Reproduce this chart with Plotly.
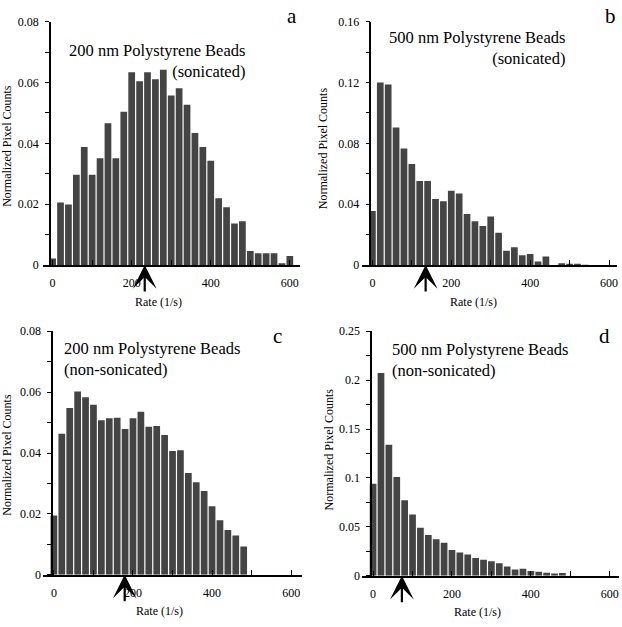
import numpy as np
import plotly.graph_objects as go

W, H = 622, 627
BIN = 20  # bin width (1/s)

# Histogram values (normalized pixel counts), bins centered at 0, 20, 40, ...
vals_a = [0.0022, 0.0206, 0.0199, 0.0297, 0.0388, 0.0297, 0.0351, 0.0466, 0.0351, 0.0504,
          0.0634, 0.0604, 0.0634, 0.0611, 0.0642, 0.0557, 0.0581, 0.0527, 0.0434, 0.0388,
          0.0343, 0.0220, 0.0190, 0.0137, 0.0144, 0.0046, 0.0039, 0.0039, 0.0039, 0.0006, 0.0030]
vals_b = [0.0355, 0.1200, 0.1187, 0.0905, 0.0766, 0.0665, 0.0552, 0.0552, 0.0434, 0.0419,
          0.0488, 0.0471, 0.0336, 0.0289, 0.0257, 0.0320, 0.0212, 0.0094, 0.0118, 0.0064,
          0.0073, 0.0024, 0.0056, 0.0, 0.0012, 0.0006, 0.0004, 0.0002]
vals_c = [0.0195, 0.0463, 0.0548, 0.0602, 0.0583, 0.0559, 0.0508, 0.0514, 0.0516, 0.0479,
          0.0514, 0.0536, 0.0486, 0.0489, 0.0459, 0.0407, 0.0409, 0.0334, 0.0304, 0.0275,
          0.0225, 0.0179, 0.0147, 0.0129, 0.0093]
vals_d = [0.0940, 0.2073, 0.1340, 0.1010, 0.0773, 0.0627, 0.0490, 0.0417, 0.0373, 0.0337,
          0.0263, 0.0237, 0.0217, 0.0180, 0.0163, 0.0147, 0.0127, 0.0093, 0.0063, 0.0070,
          0.0047, 0.0040, 0.0030, 0.0023, 0.0027]

arrow_rates = [233, 135, 179, 73]
y_max = [0.08, 0.16, 0.08, 0.25]
y_dtick = [0.02, 0.04, 0.02, 0.05]
x_ticks = [0, 200, 400, 600]
titles = ["200 nm Polystyrene Beads<br>(sonicated)",
          "500 nm Polystyrene Beads<br>(sonicated)",
          "200 nm Polystyrene Beads<br>(non-sonicated)",
          "500 nm Polystyrene Beads<br>(non-sonicated)"]
letters = ["a", "b", "c", "d"]
y_title = "Normalized Pixel Counts"
x_title = "Rate (1/s)"

# Layout geometry in pixels
geo = [
    # yaxis x, xline left, xline right, x=0 px, px per unit, y bottom px, y top px
    dict(yx=50.0, xl=43, xr=300, x0=52.7, s=0.396, yb=264.0, yt=15.0),
    dict(yx=371.0, xl=363, xr=618, x0=373.0, s=0.395, yb=264.0, yt=15.0),
    dict(yx=52.3, xl=43, xr=302, x0=54.0, s=0.396, yb=580.7, yt=331.7),
    dict(yx=371.7, xl=362.7, xr=620, x0=373.7, s=0.395, yb=581.7, yt=331.7),
]
title_pos = [dict(x=247, y=55, xa="right", al="right"),
             dict(x=568, y=42, xa="right", al="right"),
             dict(x=62, y=360, xa="left", al="left"),
             dict(x=391, y=361, xa="left", al="left")]
letter_pos = [(292.5, 9), (611, 9), (278, 337), (605, 337)]
ytitle_pos = [(7, 142), (323, 144), (7, 458), (329, 452)]
xtitle_pos = [(159, 302), (474, 302), (160, 618), (478, 619)]

FONT = "Liberation Serif, Times New Roman, serif"
BAR_COLOR = "#444444"

def px(x):
    return x / W

def py(y):
    return 1 - y / H

fig = go.Figure()
all_vals = [vals_a, vals_b, vals_c, vals_d]
annotations = []
for i, vals in enumerate(all_vals):
    g = geo[i]
    n = i + 1
    xs = np.arange(len(vals)) * BIN
    xa = "x" if n == 1 else f"x{n}"
    ya = "y" if n == 1 else f"y{n}"
    fig.add_trace(go.Bar(x=xs, y=vals, xaxis=xa, yaxis=ya,
                         marker=dict(color=BAR_COLOR, line=dict(width=0)),
                         showlegend=False, hoverinfo="x+y"))
    xr = [(g["xl"] - g["x0"]) / g["s"], (g["xr"] - g["x0"]) / g["s"]]
    xkey = "xaxis" if n == 1 else f"xaxis{n}"
    ykey = "yaxis" if n == 1 else f"yaxis{n}"
    fig.update_layout(**{
        xkey: dict(domain=[px(g["xl"]), px(g["xr"])], range=xr, anchor=ya,
                   showline=True, linecolor="black", linewidth=1.5,
                   showgrid=False, zeroline=False,
                   tickmode="array", tickvals=x_ticks, ticktext=[str(t) for t in x_ticks],
                   ticks="inside", ticklen=5, tickwidth=1, tickcolor="black",
                   minor=dict(dtick=100, tick0=0, ticks="inside", ticklen=5, tickcolor="black"),
                   ticklabelstandoff=6,
                   tickfont=dict(family=FONT, size=12, color="black")),
        ykey: dict(domain=[py(g["yb"]), py(g["yt"])], range=[0, y_max[i]],
                   anchor="free", position=px(g["yx"]),
                   showline=True, linecolor="black", linewidth=1.5,
                   showgrid=False, zeroline=False,
                   dtick=y_dtick[i], tick0=0,
                   ticks="outside", ticklen=4, tickwidth=1, tickcolor="black",
                   minor=dict(dtick=y_dtick[i] / 2, tick0=0, ticks="outside", ticklen=4,
                              tickcolor="black"),
                   ticklabelstandoff=4,
                   tickfont=dict(family=FONT, size=12, color="black")),
    })
    # arrow marking characteristic rate
    annotations.append(dict(x=arrow_rates[i], y=0, xref=xa, yref=ya, ax=0, ay=28,
                            showarrow=True, arrowhead=3, arrowsize=1.8, arrowwidth=2.2,
                            arrowcolor="black", standoff=0, text=""))
    tp = title_pos[i]
    annotations.append(dict(x=px(tp["x"]), y=py(tp["y"]), xref="paper", yref="paper",
                            text=titles[i], showarrow=False, xanchor=tp["xa"], yanchor="middle",
                            align=tp["al"], font=dict(family=FONT, size=16.5, color="black")))
    lx, ly = letter_pos[i]
    annotations.append(dict(x=px(lx), y=py(ly), xref="paper", yref="paper", text=letters[i],
                            showarrow=False, xanchor="center", yanchor="middle",
                            font=dict(family=FONT, size=21, color="black")))
    tx, ty = ytitle_pos[i]
    annotations.append(dict(x=px(tx), y=py(ty), xref="paper", yref="paper", text=y_title,
                            showarrow=False, textangle=-90, xanchor="center", yanchor="middle",
                            font=dict(family=FONT, size=12, color="black")))
    rx, ry = xtitle_pos[i]
    annotations.append(dict(x=px(rx), y=py(ry), xref="paper", yref="paper", text=x_title,
                            showarrow=False, xanchor="center", yanchor="middle",
                            font=dict(family=FONT, size=12, color="black")))

fig.update_layout(width=W, height=H, margin=dict(l=0, r=0, t=0, b=0),
                  paper_bgcolor="white", plot_bgcolor="white",
                  bargap=0.15, annotations=annotations,
                  font=dict(family=FONT, color="black"))
fig.write_html("out.html", config={"displayModeBar": False},
               post_script="document.body.style.margin='0';"
                           "document.body.style.overflow='hidden';")
